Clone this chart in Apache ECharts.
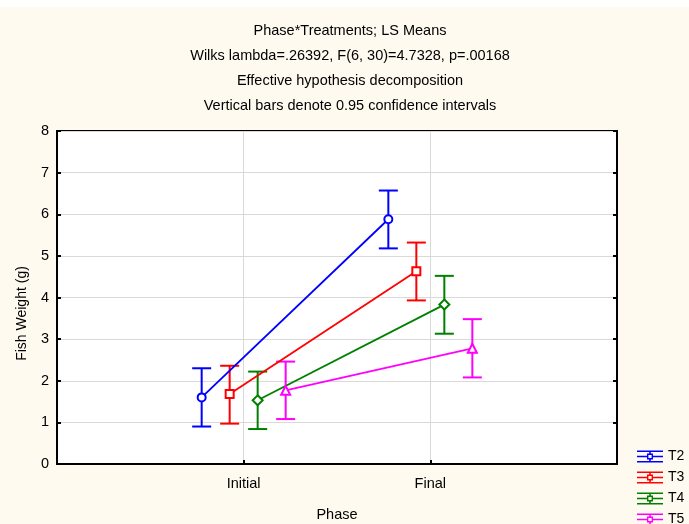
<!DOCTYPE html>
<html>
<head>
<meta charset="utf-8">
<script src="https://cdn.jsdelivr.net/npm/echarts@6/dist/echarts.min.js"></script>
<style>
  html, body { margin: 0; padding: 0; background: #fffaf0; }
  #chart { width: 689px; height: 524px; }
</style>
</head>
<body>
<div id="chart"></div>
<script>
// Phase categories sit at x = 1 and x = 2 on a 0..3 numeric axis
const phases = ['Initial', 'Final'];
const treatments = ['T2', 'T3', 'T4', 'T5'];
const colors = ['#0000ff', '#ff0000', '#008000', '#ff00ff'];
const symbols = ['emptyCircle', 'emptyRect', 'emptyDiamond', 'emptyTriangle'];
const symbolSizes = [8, 8, 10, 9];
// horizontal dodge of each treatment around its phase position
const dodge = [-0.225, -0.075, 0.075, 0.225];

// LS means (g) for [Initial, Final]
const meanT2 = [1.60, 5.88];
const meanT3 = [1.68, 4.63];
const meanT4 = [1.53, 3.83];
const meanT5 = [1.77, 2.78];
// 0.95 confidence limits [Initial, Final]
const lowT2 = [0.90, 5.18];
const highT2 = [2.30, 6.57];
const lowT3 = [0.97, 3.93];
const highT3 = [2.36, 5.32];
const lowT4 = [0.84, 3.13];
const highT4 = [2.22, 4.52];
const lowT5 = [1.08, 2.08];
const highT5 = [2.46, 3.48];

const yTicks = [0, 1, 2, 3, 4, 5, 6, 7, 8];

const means = [meanT2, meanT3, meanT4, meanT5];
const lows = [lowT2, lowT3, lowT4, lowT5];
const highs = [highT2, highT3, highT4, highT5];

const chart = echarts.init(document.getElementById('chart'));

const font = 'Liberation Sans, Arial, sans-serif';

// legend glyph: caps, line, whisker and a hollow marker
const legendIcon = 'path://' +
  'M0 0H26V1.6H0Z M0 10.4H26V12H0Z ' +
  'M0 5.2H10V6.8H0Z M16 5.2H26V6.8H16Z ' +
  'M12.2 0H13.8V3.2H12.2Z M12.2 8.8H13.8V12H12.2Z ' +
  'M10 3H16V4.4H10Z M10 7.6H16V9H10Z M10 3H11.4V9H10Z M14.6 3H16V9H14.6Z';

const series = [];
treatments.forEach((name, i) => {
  const pts = phases.map((p, j) => [j + 1 + dodge[i], means[i][j]]);
  series.push({
    name: name,
    type: 'line',
    data: pts,
    symbol: symbols[i],
    symbolSize: symbolSizes[i],
    showSymbol: true,
    lineStyle: { color: colors[i], width: 1.8 },
    itemStyle: { color: colors[i], borderWidth: 1.6 },
    z: 3,
    animation: false
  });
  series.push({
    name: name,
    type: 'custom',
    data: phases.map((p, j) => [j + 1 + dodge[i], lows[i][j], highs[i][j]]),
    renderItem: function (params, api) {
      const x = api.value(0);
      const lo = api.coord([x, api.value(1)]);
      const hi = api.coord([x, api.value(2)]);
      const half = 9.5;
      const style = { stroke: colors[i], lineWidth: 2 };
      return {
        type: 'group',
        children: [
          { type: 'line', shape: { x1: lo[0], y1: lo[1], x2: hi[0], y2: hi[1] }, style: style },
          { type: 'line', shape: { x1: lo[0] - half, y1: lo[1], x2: lo[0] + half, y2: lo[1] }, style: style },
          { type: 'line', shape: { x1: hi[0] - half, y1: hi[1], x2: hi[0] + half, y2: hi[1] }, style: style }
        ]
      };
    },
    z: 2,
    animation: false
  });
});

chart.setOption({
  backgroundColor: '#fffaf0',
  animation: false,
  graphic: [
    { type: 'rect', left: 0, top: 0, shape: { width: 689, height: 7 }, style: { fill: '#ffffff' }, silent: true }
  ],
  title: {
    text: 'Phase*Treatments; LS Means\nWilks lambda=.26392, F(6, 30)=4.7328, p=.00168\nEffective hypothesis decomposition\nVertical bars denote 0.95 confidence intervals',
    left: 350,
    top: 18,
    padding: 0,
    textAlign: 'center',
    textStyle: { fontFamily: font, fontSize: 14.5, fontWeight: 'normal', color: '#000', lineHeight: 25 }
  },
  legend: {
    orient: 'vertical',
    left: 632,
    top: 443,
    height: 100,
    itemWidth: 26,
    itemHeight: 12,
    itemGap: 4,
    textStyle: { fontFamily: font, fontSize: 14, color: '#000', lineHeight: 17 },
    data: treatments.map((n, i) => ({ name: n, icon: legendIcon, itemStyle: { color: colors[i], borderWidth: 0 } }))
  },
  grid: {
    left: 57, right: 72, top: 131, bottom: 60,
    outerBoundsMode: 'none',
    show: true, backgroundColor: '#ffffff', borderColor: '#000', borderWidth: 2
  },
  xAxis: {
    type: 'value',
    min: 0, max: 3, interval: 1,
    name: 'Phase',
    nameLocation: 'middle',
    nameGap: 43,
    nameTextStyle: { fontFamily: font, fontSize: 14.5, color: '#000' },
    axisLine: { show: true, lineStyle: { color: '#000', width: 2 } },
    axisTick: { show: true, inside: true, length: 4, lineStyle: { color: '#000', width: 2 } },
    axisLabel: {
      fontFamily: font, fontSize: 14.5, color: '#000', margin: 12,
      formatter: v => (v >= 1 && v <= phases.length ? phases[v - 1] : '')
    },
    splitLine: { show: true, lineStyle: { color: '#d9d9d9', width: 1 } }
  },
  yAxis: [{
    type: 'value',
    min: yTicks[0], max: yTicks[yTicks.length - 1], interval: 1,
    name: 'Fish Weight (g)',
    nameLocation: 'middle',
    nameGap: 28,
    nameTextStyle: { fontFamily: font, fontSize: 14, color: '#000', padding: [0, 32, 0, 0] },
    axisLine: { show: true, lineStyle: { color: '#000', width: 2 } },
    axisTick: { show: true, inside: true, length: 4, lineStyle: { color: '#000', width: 2 } },
    axisLabel: { fontFamily: font, fontSize: 14.5, color: '#000', margin: 8 },
    splitLine: { show: true, lineStyle: { color: '#d9d9d9', width: 1 } }
  }, {
    type: 'value',
    position: 'right',
    min: yTicks[0], max: yTicks[yTicks.length - 1], interval: 1,
    axisLine: { show: true, lineStyle: { color: '#000', width: 2 } },
    axisTick: { show: true, inside: true, length: 4, lineStyle: { color: '#000', width: 2 } },
    axisLabel: { show: false },
    splitLine: { show: false }
  }],
  series: series
});
</script>
</body>
</html>
